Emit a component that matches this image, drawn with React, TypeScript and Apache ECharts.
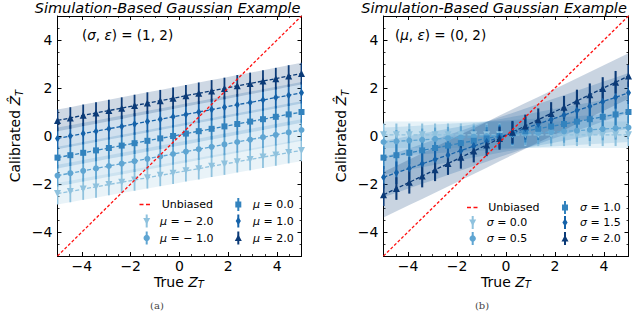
import React, { useEffect, useRef } from "react";
import * as echarts from "echarts";

// True Z_T sample positions (20 evenly spaced points)
const X_TRUE = [-5, -4.474, -3.947, -3.421, -2.895, -2.368, -1.842, -1.316, -0.789, -0.263, 0.263, 0.789, 1.316, 1.842, 2.368, 2.895, 3.421, 3.947, 4.474, 5];

// Panel (a): (sigma, epsilon) = (1, 2), varying mu
const MU_LABELS = ["− 2.0", "− 1.0", "0.0", "1.0", "2.0"];
const A_MU_M2 = [-2.4, -2.31, -2.21, -2.12, -2.02, -1.93, -1.83, -1.74, -1.64, -1.55, -1.45, -1.36, -1.26, -1.17, -1.07, -0.98, -0.88, -0.79, -0.69, -0.6];
const A_MU_M1 = [-1.65, -1.55, -1.45, -1.35, -1.25, -1.15, -1.05, -0.95, -0.85, -0.75, -0.65, -0.55, -0.45, -0.35, -0.25, -0.15, -0.05, 0.05, 0.15, 0.25];
const A_MU_0 = [-0.9, -0.8, -0.7, -0.6, -0.5, -0.4, -0.3, -0.2, -0.1, 0.0, 0.1, 0.2, 0.3, 0.4, 0.5, 0.6, 0.7, 0.8, 0.9, 1.0];
const A_MU_1 = [-0.1, 0.0, 0.1, 0.2, 0.3, 0.4, 0.5, 0.6, 0.7, 0.8, 0.9, 1.0, 1.1, 1.2, 1.3, 1.4, 1.5, 1.6, 1.7, 1.8];
const A_MU_2 = [0.65, 0.75, 0.86, 0.96, 1.06, 1.16, 1.27, 1.37, 1.47, 1.57, 1.68, 1.78, 1.88, 1.98, 2.09, 2.19, 2.29, 2.39, 2.5, 2.6];
const A_ERR = [0.45, 0.45, 0.45, 0.45, 0.45];
const A_BAND = [0.45, 0.45, 0.45, 0.45, 0.45];

// Panel (b): (mu, epsilon) = (0, 2), varying sigma
const SIGMA_LABELS = ["0.0", "0.5", "1.0", "1.5", "2.0"];
const B_SIG_0 = [0.05, 0.05, 0.05, 0.05, 0.05, 0.05, 0.05, 0.05, 0.05, 0.05, 0.05, 0.05, 0.05, 0.05, 0.05, 0.05, 0.05, 0.05, 0.05, 0.05];
const B_SIG_05 = [-0.25, -0.22, -0.19, -0.16, -0.12, -0.09, -0.06, -0.03, 0.0, 0.03, 0.07, 0.1, 0.13, 0.16, 0.19, 0.22, 0.26, 0.29, 0.32, 0.35];
const B_SIG_1 = [-0.9, -0.8, -0.7, -0.6, -0.5, -0.4, -0.3, -0.2, -0.1, 0.0, 0.1, 0.2, 0.3, 0.4, 0.5, 0.6, 0.7, 0.8, 0.9, 1.0];
const B_SIG_15 = [-1.72, -1.53, -1.35, -1.16, -0.98, -0.79, -0.61, -0.42, -0.24, -0.05, 0.13, 0.32, 0.5, 0.69, 0.87, 1.06, 1.24, 1.43, 1.61, 1.8];
const B_SIG_2 = [-2.45, -2.19, -1.93, -1.67, -1.41, -1.15, -0.89, -0.63, -0.37, -0.1, 0.16, 0.42, 0.68, 0.94, 1.2, 1.46, 1.72, 1.98, 2.24, 2.5];
const B_ERR = [0.47, 0.47, 0.47, 0.47, 0.47];
const B_BAND = [0.55, 0.6, 0.7, 0.83, 0.95];

// Unbiased reference line
const UNBIASED_X = [-5, 5];
const UNBIASED_Y = [-5, 5];

const TICK_VALUES = [-4, -2, 0, 2, 4];
const AXIS_MIN = -5;
const AXIS_MAX = 5;

const COLORS = ["#8fc2de", "#5fa5d2", "#3383be", "#1562a9", "#0b3a77"];
const SYMBOLS = ["triangle", "circle", "rect", "diamond", "triangle"];
const SYMBOL_ROT = [180, 0, 0, 0, 0];
const SYMBOL_SIZE: any[] = [7, 6, 6, [5, 8], 7];

const FONT = "DejaVu Sans";

const fmtTick = (v: number) => (v < 0 ? "\u2212" + Math.abs(v) : String(v));

function panelAxes(gridIndex: number) {
  const base = { type: "value", min: AXIS_MIN, max: AXIS_MAX, gridIndex, splitLine: { show: false } };
  const line = { show: true, onZero: false, lineStyle: { color: "#000", width: 1 } };
  const noLine = { show: false, onZero: false };
  const majorTick = { show: true, inside: true, length: 4, lineStyle: { color: "#000", width: 1 }, customValues: TICK_VALUES };
  const minorTick = { show: true, inside: true, length: 2, lineStyle: { color: "#000", width: 0.8 } };
  const label = { show: true, customValues: TICK_VALUES, fontFamily: FONT, fontSize: 14, color: "#000", formatter: fmtTick };
  const x = [
    { ...base, position: "bottom", axisLine: line, axisTick: majorTick, axisLabel: { ...label, margin: 3 } },
    { ...base, position: "top", axisLine: line, axisTick: majorTick, axisLabel: { show: false } },
    { ...base, position: "bottom", interval: 0.5, axisLine: noLine, axisTick: minorTick, axisLabel: { show: false } },
    { ...base, position: "top", interval: 0.5, axisLine: noLine, axisTick: minorTick, axisLabel: { show: false } },
  ];
  const y = [
    { ...base, position: "left", axisLine: line, axisTick: majorTick, axisLabel: { ...label, margin: 5 } },
    { ...base, position: "right", axisLine: line, axisTick: majorTick, axisLabel: { show: false } },
    { ...base, position: "left", interval: 0.5, axisLine: noLine, axisTick: minorTick, axisLabel: { show: false } },
    { ...base, position: "right", interval: 0.5, axisLine: noLine, axisTick: minorTick, axisLabel: { show: false } },
  ];
  return { x, y };
}

function panelSeries(p: number, values: number[][], errs: number[], bands: number[], barWidth: number, bandOpacity: number) {
  const axisIdx = p * 4;
  const out: any[] = [];
  values.forEach((vals, i) => {
    const w = bands[i];
    out.push({
      type: "custom",
      xAxisIndex: axisIdx,
      yAxisIndex: axisIdx,
      silent: true,
      z: 1,
      data: [[X_TRUE[0], vals[0]]],
      renderItem: (_params: any, api: any) => {
        const upper = X_TRUE.map((x, k) => api.coord([x, vals[k] + w]));
        const lower = X_TRUE.map((x, k) => api.coord([x, vals[k] - w])).reverse();
        return {
          type: "polygon",
          shape: { points: upper.concat(lower) },
          style: { fill: COLORS[i], opacity: bandOpacity },
        };
      },
    });
  });
  values.forEach((vals, i) => {
    out.push({
      type: "custom",
      xAxisIndex: axisIdx,
      yAxisIndex: axisIdx,
      silent: true,
      clip: true,
      z: 2,
      data: X_TRUE.map((x, k) => [x, vals[k], errs[i]]),
      renderItem: (_params: any, api: any) => {
        const x = api.value(0);
        const y = api.value(1);
        const e = api.value(2);
        const a = api.coord([x, y - e]);
        const b = api.coord([x, y + e]);
        return {
          type: "line",
          shape: { x1: a[0], y1: a[1], x2: b[0], y2: b[1] },
          style: { stroke: COLORS[i], lineWidth: barWidth },
        };
      },
    });
  });
  values.forEach((vals, i) => {
    out.push({
      type: "line",
      xAxisIndex: axisIdx,
      yAxisIndex: axisIdx,
      silent: true,
      z: 3,
      data: X_TRUE.map((x, k) => [x, vals[k]]),
      symbol: SYMBOLS[i],
      symbolSize: SYMBOL_SIZE[i],
      symbolRotate: SYMBOL_ROT[i],
      showSymbol: true,
      showAllSymbol: true,
      lineStyle: { color: COLORS[i], width: 1.3, type: [4, 2] },
      itemStyle: { color: COLORS[i] },
    });
  });
  out.push({
    type: "line",
    xAxisIndex: axisIdx,
    yAxisIndex: axisIdx,
    silent: true,
    z: 4,
    data: UNBIASED_X.map((x, k) => [x, UNBIASED_Y[k]]),
    symbol: "none",
    lineStyle: { color: "#ff1010", width: 1.3, type: [3, 2] },
  });
  return out;
}

function markerEl(i: number, cx: number, cy: number) {
  const c = COLORS[i];
  const els: any[] = [
    { type: "line", shape: { x1: cx, y1: cy - 6.5, x2: cx, y2: cy + 6.5 }, style: { stroke: c, lineWidth: 2 }, z: 10 },
  ];
  let m: any;
  if (i === 0) m = { type: "polygon", shape: { points: [[cx - 3.5, cy - 3], [cx + 3.5, cy - 3], [cx, cy + 3.5]] } };
  else if (i === 1) m = { type: "circle", shape: { cx, cy, r: 3.2 } };
  else if (i === 2) m = { type: "rect", shape: { x: cx - 3, y: cy - 3, width: 6, height: 6 } };
  else if (i === 3) m = { type: "polygon", shape: { points: [[cx, cy - 4], [cx + 2.6, cy], [cx, cy + 4], [cx - 2.6, cy]] } };
  else m = { type: "polygon", shape: { points: [[cx - 3.5, cy + 3], [cx + 3.5, cy + 3], [cx, cy - 3.5]] } };
  els.push({ ...m, style: { fill: c }, z: 11 });
  return els;
}

function legendText(x: number, y: number, sym: string, val: string) {
  return {
    type: "text",
    z: 11,
    style: {
      x,
      y,
      text: `{i|${sym}}{n| = ${val}}`,
      align: "left",
      verticalAlign: "middle",
      rich: {
        i: { fontFamily: FONT, fontSize: 11, fontStyle: "italic", fill: "#000" },
        n: { fontFamily: FONT, fontSize: 11, fill: "#000" },
      },
    },
  };
}

function legend(dashX: number, textX: number, c1x: number, c1t: number, c2x: number, c2t: number, rows: number[], sym: string, labels: string[]) {
  const els: any[] = [];
  els.push({ type: "line", z: 10, shape: { x1: dashX, y1: rows[0], x2: dashX + 11, y2: rows[0] }, style: { stroke: "#ff1010", lineWidth: 1.3, lineDash: [4, 2.5] } });
  els.push({ type: "text", z: 11, style: { x: textX, y: rows[0], text: "Unbiased", fontFamily: FONT, fontSize: 11, fill: "#000", align: "left", verticalAlign: "middle" } });
  const pos = [
    [c1x, c1t, rows[1]],
    [c1x, c1t, rows[2]],
    [c2x, c2t, rows[0]],
    [c2x, c2t, rows[1]],
    [c2x, c2t, rows[2]],
  ];
  pos.forEach((p, i) => {
    els.push(...markerEl(i, p[0], p[2]));
    els.push(legendText(p[1], p[2], sym, labels[i]));
  });
  return els;
}

function textEls() {
  const els: any[] = [];
  const title = (cx: number) => ({
    type: "text",
    style: { x: cx, y: 8, text: "Simulation-Based Gaussian Example", fontFamily: FONT, fontSize: 14.5, fontStyle: "italic", fill: "#000", align: "center", verticalAlign: "middle" },
  });
  els.push(title(167.5), title(494));
  const xlab = (cx: number) => ({
    type: "text",
    style: {
      x: cx,
      y: 282,
      text: "{n|True }{i|Z}{s|T}",
      align: "center",
      verticalAlign: "middle",
      rich: {
        n: { fontFamily: FONT, fontSize: 14, fill: "#000", lineHeight: 15 },
        i: { fontFamily: FONT, fontSize: 14, fontStyle: "italic", fill: "#000", lineHeight: 15 },
        s: { fontFamily: FONT, fontSize: 10, fontStyle: "italic", fill: "#000", lineHeight: 7, verticalAlign: "bottom" },
      },
    },
  });
  els.push(xlab(179), xlab(506));
  const ylab = (cx: number) => ({
    type: "text",
    x: cx,
    y: 136,
    rotation: Math.PI / 2,
    style: {
      x: 0,
      y: 0,
      text: "{n|Calibrated }{i|\u1E90}{s|T}",
      align: "center",
      verticalAlign: "middle",
      rich: {
        n: { fontFamily: FONT, fontSize: 14, fill: "#000", lineHeight: 18 },
        i: { fontFamily: FONT, fontSize: 14, fontStyle: "italic", fill: "#000", lineHeight: 18 },
        s: { fontFamily: FONT, fontSize: 10, fontStyle: "italic", fill: "#000", lineHeight: 9, verticalAlign: "bottom" },
      },
    },
  });
  els.push(ylab(15), ylab(341));
  const annot = (x: number, a: string, vals: string) => ({
    type: "text",
    style: {
      x,
      y: 35,
      text: `{n|(}{i|${a}}{n|, }{i|ε}{n|) = ${vals}}`,
      align: "left",
      verticalAlign: "middle",
      rich: {
        n: { fontFamily: FONT, fontSize: 13.5, fill: "#000" },
        i: { fontFamily: FONT, fontSize: 13.5, fontStyle: "italic", fill: "#000" },
      },
    },
  });
  els.push(annot(82, "σ", "(1, 2)"), annot(395, "μ", "(0, 2)"));
  const cap = (cx: number, t: string) => ({
    type: "text",
    style: { x: cx, y: 305, text: t, fontFamily: "DejaVu Serif, Liberation Serif, serif", fontSize: 10, fill: "#444", align: "center", verticalAlign: "middle" },
  });
  els.push(cap(157, "(a)"), cap(482, "(b)"));
  return els;
}

export default function App() {
  const ref = useRef<HTMLDivElement>(null);
  useEffect(() => {
    if (!ref.current) return;
    const chart = echarts.init(ref.current, null, { renderer: "svg" });
    const a = panelAxes(0);
    const b = panelAxes(1);
    const option: any = {
      animation: false,
      backgroundColor: "#fff",
      grid: [
        { left: 57.5, top: 16, width: 244, height: 240 },
        { left: 383.5, top: 16, width: 245, height: 240 },
      ],
      xAxis: [...a.x, ...b.x],
      yAxis: [...a.y, ...b.y],
      series: [
        ...panelSeries(0, [A_MU_M2, A_MU_M1, A_MU_0, A_MU_1, A_MU_2], A_ERR, A_BAND, 1.8, 0.2),
        ...panelSeries(1, [B_SIG_0, B_SIG_05, B_SIG_1, B_SIG_15, B_SIG_2], B_ERR, B_BAND, 2.1, 0.22),
      ],
      graphic: [
        ...textEls(),
        ...legend(139.5, 161.7, 146.7, 160, 238.3, 253, [204.5, 221, 238], "μ", MU_LABELS),
        ...legend(467, 488.3, 472.7, 486.7, 565, 580, [207.5, 222.5, 238.5], "σ", SIGMA_LABELS),
      ],
    };
    chart.setOption(option);
    return () => chart.dispose();
  }, []);
  return <div ref={ref} style={{ position: "fixed", left: 0, top: 0, width: 640, height: 328, background: "#fff" }} />;
}
